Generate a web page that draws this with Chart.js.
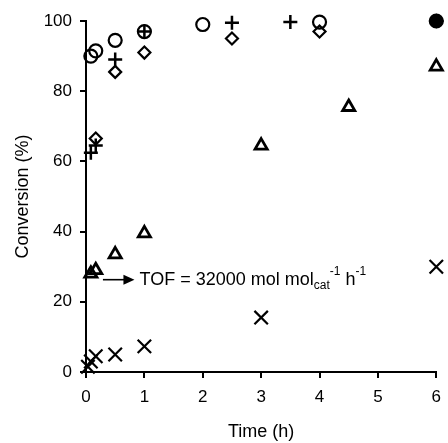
<!DOCTYPE html>
<html>
<head>
<meta charset="utf-8">
<script src="https://cdn.jsdelivr.net/npm/chart.js@4/dist/chart.umd.min.js"></script>
<style>
  html, body { margin: 0; padding: 0; background: #fff; }
  #wrap { width: 448px; height: 443px; }
</style>
</head>
<body>
<div id="wrap"><canvas id="c" width="448" height="443"></canvas></div>
<script>
// ---- data ----
const circleTime = [0.083, 0.167, 0.5, 1, 2, 4, 6];
const circleConv = [90, 91.5, 94.5, 97, 99, 99.7, 100];

const plusTime = [0.083, 0.167, 0.5, 1, 2.5, 3.5, 6];
const plusConv = [62.5, 64.5, 89, 97, 99.5, 99.7, 100];

const diamondTime = [0.167, 0.5, 1, 2.5, 4, 6];
const diamondConv = [66.5, 85.5, 91, 95, 97, 100];

const triangleTime = [0.083, 0.167, 0.5, 1, 3, 4.5, 6];
const triangleConv = [28, 29, 33.5, 39.5, 64.5, 75.5, 87];

const crossTime = [0.033, 0.083, 0.167, 0.5, 1, 3, 6];
const crossConv = [1.5, 3, 4.5, 5, 7.3, 15.5, 30];

const xTicks = [0, 1, 2, 3, 4, 5, 6];
const yTicks = [0, 20, 40, 60, 80, 100];

const tofText = 'TOF = 32000 mol mol';
const arrowFrom = [0.29, 26.3];
const arrowTo = [0.83, 26.3];

function pts(xs, ys) { return xs.map((x, i) => ({ x: x, y: ys[i] })); }

const FONT = "'Liberation Sans', Arial, sans-serif";

const annot = {
  id: 'annot',
  afterDatasetsDraw(chart) {
    const ctx = chart.ctx, xs = chart.scales.x, ys = chart.scales.y;
    const x1 = xs.getPixelForValue(arrowFrom[0]), y1 = ys.getPixelForValue(arrowFrom[1]);
    const x2 = xs.getPixelForValue(arrowTo[0]);
    ctx.save();
    ctx.strokeStyle = '#000'; ctx.fillStyle = '#000'; ctx.lineWidth = 1.6;
    ctx.beginPath(); ctx.moveTo(x1, y1); ctx.lineTo(x2 - 8, y1); ctx.stroke();
    ctx.beginPath(); ctx.moveTo(x2, y1); ctx.lineTo(x2 - 11, y1 - 5); ctx.lineTo(x2 - 11, y1 + 5); ctx.closePath(); ctx.fill();
    let tx = x2 + 5;
    ctx.textBaseline = 'middle'; ctx.textAlign = 'left';
    ctx.font = '18px ' + FONT;
    ctx.fillText(tofText, tx, y1);
    tx += ctx.measureText(tofText).width;
    ctx.font = '12px ' + FONT;
    ctx.fillText('cat', tx, y1 + 6);
    const catW = ctx.measureText('cat').width;
    ctx.fillText('-1', tx + catW, y1 - 8);
    tx += catW + ctx.measureText('-1').width + 5;
    ctx.font = '18px ' + FONT;
    ctx.fillText('h', tx, y1);
    tx += ctx.measureText('h').width;
    ctx.font = '12px ' + FONT;
    ctx.fillText('-1', tx, y1 - 8);
    ctx.restore();
  }
};

const base = { borderColor: '#000', backgroundColor: 'rgba(0,0,0,0)', borderWidth: 2.2, showLine: false };

new Chart(document.getElementById('c'), {
  type: 'scatter',
  data: {
    datasets: [
      Object.assign({}, base, { label: 'circle', data: pts(circleTime, circleConv), pointStyle: 'circle', pointRadius: 6.5,
        pointBackgroundColor: circleTime.map((t, i) => i === circleTime.length - 1 ? '#000' : 'rgba(0,0,0,0)') }),
      Object.assign({}, base, { label: 'plus', data: pts(plusTime, plusConv), pointStyle: 'cross', pointRadius: 7, borderWidth: 2.5 }),
      Object.assign({}, base, { label: 'diamond', data: pts(diamondTime, diamondConv), pointStyle: 'rectRot', pointRadius: 6 }),
      Object.assign({}, base, { label: 'triangle', data: pts(triangleTime, triangleConv), pointStyle: 'triangle', pointRadius: 7, borderWidth: 2.8 }),
      Object.assign({}, base, { label: 'cross', data: pts(crossTime, crossConv), pointStyle: 'crossRot', pointRadius: 9.5 })
    ]
  },
  options: {
    responsive: false,
    animation: false,
    clip: false,
    layout: { padding: { left: 12, top: 21, right: 9, bottom: 0 } },
    plugins: { legend: { display: false }, tooltip: { enabled: false } },
    scales: {
      x: {
        type: 'linear', min: 0, max: 6,
        afterBuildTicks(s) { s.ticks = xTicks.map(v => ({ value: v })); },
        afterFit(s) { s.height = 71; s.paddingRight = 0; s.paddingLeft = 0; },
        border: { color: '#000', width: 2 },
        grid: { drawOnChartArea: false, drawTicks: true, tickLength: 6, color: '#000', lineWidth: 2 },
        ticks: { color: '#000', font: { family: FONT, size: 17 }, padding: 9, maxRotation: 0 },
        title: { display: true, text: 'Time (h)', color: '#000', font: { family: FONT, size: 18 }, padding: { top: 0, bottom: 0 } }
      },
      y: {
        type: 'linear', min: 0, max: 100,
        afterBuildTicks(s) { s.ticks = yTicks.map(v => ({ value: v })); },
        afterFit(s) { s.width = 74; },
        border: { color: '#000', width: 2 },
        grid: { drawOnChartArea: false, drawTicks: true, tickLength: 6, color: '#000', lineWidth: 2 },
        ticks: { color: '#000', font: { family: FONT, size: 17 }, padding: 8 },
        title: { display: true, text: 'Conversion (%)', color: '#000', font: { family: FONT, size: 18 }, padding: { top: 0, bottom: 0 } }
      }
    }
  },
  plugins: [annot]
});
</script>
</body>
</html>
